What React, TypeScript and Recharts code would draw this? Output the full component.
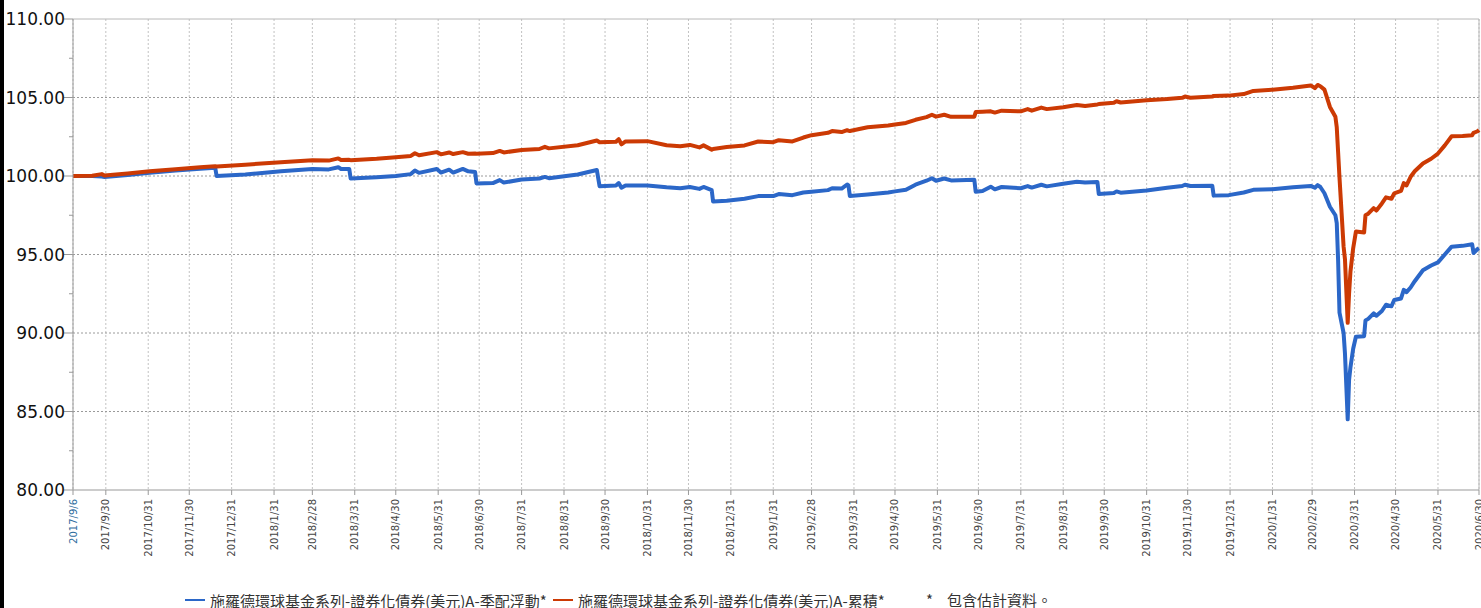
import React from "react";
import {
  LineChart,
  Line,
  XAxis,
  YAxis,
  CartesianGrid,
  ReferenceLine,
} from "recharts";

// NAV points (indexed to 100 at 2017/9/6)
const dates = [
  "2017/9/6", "2017/9/20", "2017/9/27", "2017/9/29", "2017/10/16", "2017/11/1",
  "2017/11/20", "2017/12/8", "2017/12/19", "2017/12/20", "2018/1/10", "2018/2/5",
  "2018/2/28", "2018/3/12", "2018/3/19", "2018/3/21", "2018/3/27", "2018/3/28",
  "2018/4/16", "2018/4/30", "2018/5/11", "2018/5/14", "2018/5/17", "2018/5/30",
  "2018/6/2", "2018/6/8", "2018/6/11", "2018/6/18", "2018/6/22", "2018/6/27",
  "2018/6/28", "2018/7/10", "2018/7/15", "2018/7/18", "2018/7/31", "2018/8/13",
  "2018/8/17", "2018/8/20", "2018/9/10", "2018/9/24", "2018/9/26", "2018/10/8",
  "2018/10/10", "2018/10/12", "2018/10/15", "2018/10/31", "2018/11/14", "2018/11/24",
  "2018/12/1", "2018/12/8", "2018/12/11", "2018/12/17", "2018/12/18", "2018/12/28",
  "2019/1/10", "2019/1/20", "2019/1/31", "2019/2/4", "2019/2/14", "2019/2/22",
  "2019/2/28", "2019/3/12", "2019/3/15", "2019/3/22", "2019/3/26", "2019/3/27",
  "2019/3/28", "2019/4/10", "2019/4/25", "2019/4/30", "2019/5/8", "2019/5/15",
  "2019/5/23", "2019/5/27", "2019/5/30", "2019/6/5", "2019/6/10", "2019/6/27",
  "2019/6/28", "2019/7/3", "2019/7/9", "2019/7/12", "2019/7/17", "2019/7/31",
  "2019/8/5", "2019/8/8", "2019/8/15", "2019/8/19", "2019/8/31", "2019/9/10",
  "2019/9/16", "2019/9/25", "2019/9/26", "2019/10/7", "2019/10/9", "2019/10/12",
  "2019/10/31", "2019/11/15", "2019/11/26", "2019/11/28", "2019/12/2", "2019/12/18",
  "2019/12/19", "2019/12/30", "2020/1/10", "2020/1/17", "2020/1/31", "2020/2/15",
  "2020/2/28", "2020/3/2", "2020/3/4", "2020/3/6", "2020/3/9", "2020/3/13",
  "2020/3/17", "2020/3/18", "2020/3/19", "2020/3/20", "2020/3/23", "2020/3/24",
  "2020/3/26", "2020/3/27", "2020/3/28", "2020/3/30", "2020/4/1", "2020/4/7",
  "2020/4/8", "2020/4/10", "2020/4/14", "2020/4/16", "2020/4/20", "2020/4/23",
  "2020/4/27", "2020/4/29", "2020/5/4", "2020/5/6", "2020/5/8", "2020/5/11",
  "2020/5/14", "2020/5/20", "2020/5/26", "2020/5/31", "2020/6/5", "2020/6/10",
  "2020/6/18", "2020/6/25", "2020/6/26", "2020/6/29", "2020/6/30",
];

// A-季配浮動 (distributing, blue)
const floatNav = [
  100.0, 100.0, 99.96, 99.94, 100.06, 100.2,
  100.35, 100.46, 100.52, 100.0, 100.1, 100.3,
  100.45, 100.42, 100.56, 100.45, 100.45, 99.84,
  99.92, 100.0, 100.12, 100.35, 100.2, 100.45,
  100.22, 100.4, 100.22, 100.45, 100.3, 100.25,
  99.53, 99.55, 99.74, 99.58, 99.78, 99.84,
  99.94, 99.86, 100.1, 100.38, 99.35, 99.4,
  99.55, 99.25, 99.4, 99.4, 99.28, 99.22,
  99.3, 99.18, 99.3, 99.1, 98.37, 98.42,
  98.55, 98.72, 98.72, 98.85, 98.78, 98.95,
  99.0, 99.1, 99.22, 99.2, 99.46, 99.4,
  98.73, 98.82, 98.95, 99.02, 99.12, 99.45,
  99.7, 99.86, 99.7, 99.84, 99.72, 99.76,
  99.0, 99.05, 99.32, 99.15, 99.3, 99.22,
  99.36, 99.26, 99.44, 99.34, 99.5, 99.64,
  99.58, 99.62, 98.86, 98.92, 99.02, 98.94,
  99.08, 99.25, 99.36, 99.44, 99.36, 99.38,
  98.75, 98.78, 98.95, 99.12, 99.16, 99.28,
  99.37, 99.25, 99.42, 99.3, 98.9, 98.04,
  97.5, 97.0, 94.6, 91.3, 90.0, 88.7,
  84.5, 87.0, 87.8, 89.0, 89.76, 89.8,
  90.8, 90.9, 91.25, 91.1, 91.4, 91.8,
  91.7, 92.1, 92.2, 92.75, 92.6, 92.9,
  93.3, 94.0, 94.3, 94.5, 95.0, 95.5,
  95.55, 95.65, 95.1, 95.35, 95.4,
];

// A-累積 (accumulating, orange)
const accNav = [
  100.0, 100.02, 100.12, 100.03, 100.16, 100.3,
  100.43, 100.55, 100.62, 100.6, 100.72, 100.88,
  101.0, 100.98, 101.12, 101.02, 101.03, 101.01,
  101.1, 101.2, 101.28, 101.45, 101.32, 101.52,
  101.38, 101.5, 101.4, 101.52, 101.42, 101.43,
  101.42, 101.46, 101.6, 101.5, 101.66, 101.72,
  101.86, 101.76, 101.96, 102.26, 102.15, 102.18,
  102.35, 102.02, 102.2, 102.22, 101.96, 101.9,
  101.98, 101.82, 101.95, 101.68, 101.72, 101.85,
  101.95, 102.2, 102.15, 102.28, 102.2, 102.45,
  102.6, 102.75, 102.86, 102.8, 102.92, 102.88,
  102.87, 103.1, 103.22, 103.28, 103.38, 103.58,
  103.75, 103.9, 103.78, 103.9, 103.77, 103.78,
  104.07, 104.1, 104.12, 104.04, 104.16, 104.12,
  104.26, 104.16, 104.36, 104.26, 104.38, 104.52,
  104.46, 104.56, 104.58, 104.66, 104.76, 104.68,
  104.82, 104.9, 104.98, 105.06, 104.98, 105.06,
  105.1, 105.12, 105.22, 105.42, 105.5, 105.62,
  105.77, 105.6, 105.8, 105.72, 105.5, 104.4,
  103.77, 103.1, 101.5, 99.9, 95.5, 94.7,
  90.65, 92.5, 93.9, 95.4, 96.46, 96.4,
  97.5, 97.6, 97.95, 97.8, 98.25, 98.64,
  98.55, 98.9, 99.05, 99.55, 99.4, 99.95,
  100.3, 100.8, 101.1, 101.43, 101.95, 102.53,
  102.55, 102.6, 102.75, 102.85, 102.93,
];

const tickLabels = [
  "2017/9/6", "2017/9/30", "2017/10/31", "2017/11/30", "2017/12/31",
  "2018/1/31", "2018/2/28", "2018/3/31", "2018/4/30", "2018/5/31", "2018/6/30",
  "2018/7/31", "2018/8/31", "2018/9/30", "2018/10/31", "2018/11/30", "2018/12/31",
  "2019/1/31", "2019/2/28", "2019/3/31", "2019/4/30", "2019/5/31", "2019/6/30",
  "2019/7/31", "2019/8/31", "2019/9/30", "2019/10/31", "2019/11/30", "2019/12/31",
  "2020/1/31", "2020/2/29", "2020/3/31", "2020/4/30", "2020/5/31", "2020/6/30",
];

const yTicks = [80, 82.5, 85, 87.5, 90, 92.5, 95, 97.5, 100, 102.5, 105, 107.5, 110];
const yGrid = [85, 90, 95, 100, 105];

const seriesNames = [
  "施羅德環球基金系列-證券化債券(美元)A-季配浮動*",
  "施羅德環球基金系列-證券化債券(美元)A-累積*",
];
const noteText = "包含估計資料。";

const BLUE = "#2b67c8";
const ORANGE = "#cc3a04";
const NUM_FONT = "'DejaVu Sans', Verdana, sans-serif";
const CJK_FONT = "'Noto Sans CJK TC', 'Noto Sans', sans-serif";

const START = Date.UTC(2017, 8, 6);
function dayOf(s: string) {
  const [y, m, d] = s.split("/").map(Number);
  return Math.round((Date.UTC(y, m - 1, d) - START) / 86400000);
}

const tickDays = tickLabels.map(dayOf);
const lastDay = tickDays[tickDays.length - 1];
const labelByDay: Record<number, string> = {};
tickLabels.forEach((l, i) => (labelByDay[tickDays[i]] = l));

const data = dates.map((d, i) => ({
  day: dayOf(d),
  float: floatNav[i],
  acc: accNav[i],
}));

const PLOT_LEFT = 73;

function XTick(props: any) {
  const { x, y, payload, index } = props;
  return (
    <g transform={`translate(${x},${y + 2})`}>
      <text
        transform="rotate(-90)"
        textAnchor="end"
        dy="0.35em"
        fontSize={10}
        fontFamily={NUM_FONT}
        fill={index === 0 ? "#2f6d9e" : "#444"}
      >
        {labelByDay[payload.value]}
      </text>
    </g>
  );
}

function YTick(props: any) {
  const { y, payload } = props;
  const v = payload.value as number;
  const major = v % 5 === 0;
  return (
    <g>
      <line
        x1={PLOT_LEFT - (major ? 9 : 4)}
        x2={PLOT_LEFT}
        y1={y}
        y2={y}
        stroke="#999"
      />
      {major && (
        <text
          x={PLOT_LEFT - 8}
          y={y}
          dy="0.36em"
          textAnchor="end"
          fontSize={17}
          fontFamily={NUM_FONT}
          fill="#111"
        >
          {v.toFixed(2)}
        </text>
      )}
    </g>
  );
}

export default function App() {
  return (
    <div
      style={{
        position: "absolute",
        left: 0,
        top: 0,
        width: 1481,
        height: 608,
        background: "#fff",
        overflow: "hidden",
      }}
    >
      <div
        style={{
          position: "absolute",
          left: 0,
          top: 0,
          width: 4,
          height: 608,
          background: "#000",
        }}
      />
      <LineChart
        width={1481}
        height={608}
        data={data}
        margin={{ top: 19, right: 2, bottom: 38, left: 0 }}
      >
        <CartesianGrid
          horizontal={false}
          stroke="#c2c2c2"
          strokeDasharray="2 2"
        />
        <XAxis
          dataKey="day"
          type="number"
          domain={[0, lastDay]}
          ticks={tickDays}
          interval={0}
          height={80}
          tickSize={5}
          stroke="#999"
          tick={<XTick />}
        />
        <YAxis
          type="number"
          domain={[80, 110]}
          ticks={yTicks}
          interval={0}
          width={PLOT_LEFT}
          tickLine={false}
          stroke="#999"
          tick={<YTick />}
        />
        {yGrid.map((v) => (
          <ReferenceLine key={v} y={v} stroke="#9a9a9a" strokeDasharray="2 2" />
        ))}
        <ReferenceLine y={110} stroke="#b8b8b8" />
        <ReferenceLine x={lastDay} stroke="#b8b8b8" />
        <Line
          type="linear"
          dataKey="float"
          stroke={BLUE}
          strokeWidth={4}
          dot={false}
          strokeLinejoin="round"
          isAnimationActive={false}
        />
        <Line
          type="linear"
          dataKey="acc"
          stroke={ORANGE}
          strokeWidth={4}
          dot={false}
          strokeLinejoin="round"
          isAnimationActive={false}
        />
      </LineChart>
      <div
        style={{
          position: "absolute",
          top: 590,
          left: 0,
          width: 1481,
          height: 20,
          fontFamily: CJK_FONT,
          fontSize: 15,
          color: "#333",
          whiteSpace: "nowrap",
        }}
      >
        {[
          { left: 185, color: BLUE, name: seriesNames[0] },
          { left: 553, color: ORANGE, name: seriesNames[1] },
        ].map((it) => (
          <div
            key={it.name}
            style={{
              position: "absolute",
              left: it.left,
              top: 0,
              display: "flex",
              alignItems: "center",
              height: 20,
            }}
          >
            <span
              style={{
                display: "inline-block",
                width: 20,
                height: 2,
                background: it.color,
                marginRight: 5,
              }}
            />
            <span>{it.name}</span>
          </div>
        ))}
        <div style={{ position: "absolute", left: 926, top: 0, height: 20, lineHeight: "20px" }}>
          *
        </div>
        <div style={{ position: "absolute", left: 947, top: 0, height: 20, lineHeight: "20px" }}>
          {noteText}
        </div>
      </div>
    </div>
  );
}
